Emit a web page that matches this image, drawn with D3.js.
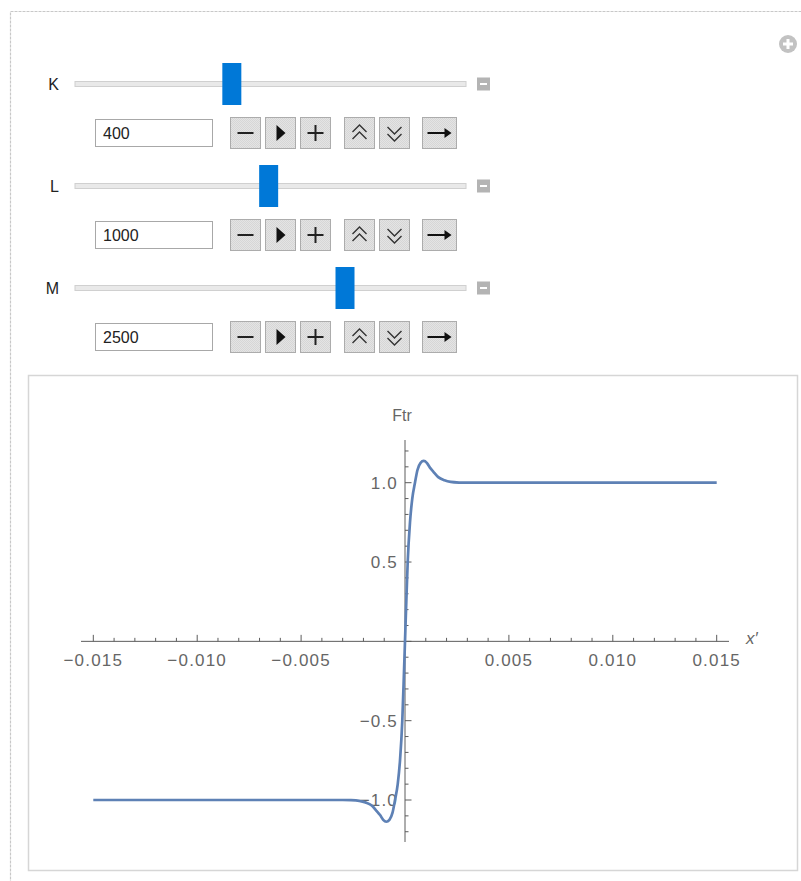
<!DOCTYPE html>
<html>
<head>
<meta charset="utf-8">
<script src="https://cdn.jsdelivr.net/npm/d3@7/dist/d3.min.js"></script>
<style>
  html, body { margin: 0; padding: 0; background: #fff; }
  svg { display: block; }
  text { font-family: "Liberation Sans", Arial, sans-serif; }
</style>
</head>
<body>
<svg id="chart" width="801" height="881"></svg>
<script>
// Manipulator parameters
const sliderNames = ["K", "L", "M"];
const sliderValues = [400, 1000, 2500];
const sliderMin = [0, 0, 0];
const sliderMax = [1010, 2020, 3570];

// Ftr(x') response curve
const xPoints = [-0.015, -0.004, -0.003, -0.0026, -0.0022, -0.0019, -0.0016, -0.00136, -0.0012,
  -0.00105, -0.0009, -0.00075, -0.0006, -0.00048, -0.00035, -0.00024, -0.00013, -0.00005, 0,
  0.00005, 0.00013, 0.00024, 0.00035, 0.00048, 0.0006, 0.00075, 0.0009, 0.00105, 0.0012,
  0.00136, 0.0016, 0.0019, 0.0022, 0.0026, 0.003, 0.004, 0.015];
const yPoints = [-1, -1, -1, -1.001, -1.005, -1.015, -1.035, -1.07, -1.095,
  -1.125, -1.137, -1.125, -1.08, -1.0, -0.9, -0.75, -0.5, -0.2, 0,
  0.2, 0.5, 0.75, 0.9, 1.0, 1.08, 1.125, 1.137, 1.125, 1.095,
  1.07, 1.035, 1.015, 1.005, 1.001, 1, 1, 1];

// Axis ticks
const xMajorTicks = [-0.015, -0.01, -0.005, 0.005, 0.01, 0.015];
const xTickLabels = ["\u22120.015", "\u22120.010", "\u22120.005", "0.005", "0.010", "0.015"];
const yMajorTicks = [-1, -0.5, 0.5, 1];
const yTickLabels = ["\u22121.0", "\u22120.5", "0.5", "1.0"];
const xLabel = "x\u2032";
const yLabel = "Ftr";

const svg = d3.select("#chart");

// Button texture
const defs = svg.append("defs");
const pat = defs.append("pattern").attr("id", "btnTex")
  .attr("width", 2).attr("height", 2).attr("patternUnits", "userSpaceOnUse");
pat.append("rect").attr("width", 2).attr("height", 2).attr("fill", "#e4e4e4");
pat.append("rect").attr("width", 1).attr("height", 1).attr("fill", "#d6d6d6");
pat.append("rect").attr("x", 1).attr("y", 1).attr("width", 1).attr("height", 1).attr("fill", "#d6d6d6");

// Outer manipulate frame
svg.append("rect")
  .attr("x", 10.5).attr("y", 11.5).attr("width", 820).attr("height", 900)
  .attr("fill", "none").attr("stroke", "#c8c8c8").attr("stroke-width", 1.2)
  .attr("stroke-dasharray", "3,1");

// Top-right add icon
const addIcon = svg.append("g").attr("transform", "translate(788,44)");
addIcon.append("circle").attr("r", 9).attr("fill", "#c2c2c2");
addIcon.append("path").attr("d", "M-5,0H5M0,-5V5").attr("stroke", "#fff").attr("stroke-width", 3);

// Sliders and control rows
const trackX0 = 75, trackX1 = 466, thumbW = 19, thumbH = 42;
const rowTrackY = [84, 186, 288];

sliderNames.forEach((name, i) => {
  const ty = rowTrackY[i];
  const g = svg.append("g");
  const thumbScale = d3.scaleLinear()
    .domain([sliderMin[i], sliderMax[i]])
    .range([trackX0 + thumbW / 2, trackX1 - thumbW / 2]);

  g.append("text").attr("x", 59).attr("y", ty).attr("dy", "0.35em")
    .attr("text-anchor", "end").attr("font-size", 16).attr("fill", "#222").text(name);

  // track
  g.append("rect").attr("x", trackX0).attr("y", ty - 2.5).attr("width", trackX1 - trackX0).attr("height", 5)
    .attr("fill", "#e9e9e9").attr("stroke", "#d0d0d0").attr("stroke-width", 1);
  // thumb
  g.append("rect").attr("x", thumbScale(sliderValues[i]) - thumbW / 2).attr("y", ty - thumbH / 2)
    .attr("width", thumbW).attr("height", thumbH).attr("fill", "#0078d7");
  // small collapse box
  g.append("rect").attr("x", 477).attr("y", ty - 6.5).attr("width", 13).attr("height", 13).attr("fill", "#b4b4b4");
  g.append("path").attr("d", `M480,${ty}H487`).attr("stroke", "#fff").attr("stroke-width", 2);

  // input field + buttons row
  const by = ty + 33;
  g.append("rect").attr("x", 95.5).attr("y", by + 2.5).attr("width", 117).attr("height", 27)
    .attr("fill", "#fff").attr("stroke", "#a8a8a8").attr("stroke-width", 1);
  g.append("text").attr("x", 103).attr("y", by + 16).attr("dy", "0.36em")
    .attr("font-size", 16).attr("fill", "#222").text(sliderValues[i]);

  const buttons = [
    { x: 230, w: 31, kind: "minus" },
    { x: 265, w: 31, kind: "play" },
    { x: 300, w: 31, kind: "plus" },
    { x: 344, w: 31, kind: "faster" },
    { x: 379, w: 31, kind: "slower" },
    { x: 422, w: 35, kind: "dir" }
  ];
  buttons.forEach(b => {
    g.append("rect").attr("x", b.x + 0.5).attr("y", by + 0.5).attr("width", b.w - 1).attr("height", 31)
      .attr("fill", "url(#btnTex)").attr("stroke", "#acacac").attr("stroke-width", 1);
    const cx = b.x + b.w / 2, cy = by + 16;
    if (b.kind === "minus") {
      g.append("path").attr("d", `M${cx - 8},${cy}H${cx + 8}`).attr("stroke", "#222").attr("stroke-width", 2);
    } else if (b.kind === "play") {
      g.append("path").attr("d", `M${cx - 4},${cy - 8}L${cx + 5},${cy}L${cx - 4},${cy + 8}Z`).attr("fill", "#111");
    } else if (b.kind === "plus") {
      g.append("path").attr("d", `M${cx - 8},${cy}H${cx + 8}M${cx},${cy - 8}V${cy + 8}`)
        .attr("stroke", "#222").attr("stroke-width", 2);
    } else if (b.kind === "faster") {
      g.append("path").attr("d",
        `M${cx - 7},${cy - 1}L${cx},${cy - 8}L${cx + 7},${cy - 1}M${cx - 7},${cy + 6}L${cx},${cy - 1}L${cx + 7},${cy + 6}`)
        .attr("fill", "none").attr("stroke", "#333").attr("stroke-width", 1.4);
    } else if (b.kind === "slower") {
      g.append("path").attr("d",
        `M${cx - 7},${cy - 6}L${cx},${cy + 1}L${cx + 7},${cy - 6}M${cx - 7},${cy + 1}L${cx},${cy + 8}L${cx + 7},${cy + 1}`)
        .attr("fill", "none").attr("stroke", "#333").attr("stroke-width", 1.4);
    } else {
      g.append("path").attr("d", `M${cx - 12},${cy}H${cx + 6}`).attr("stroke", "#111").attr("stroke-width", 2);
      g.append("path").attr("d", `M${cx + 5},${cy - 5}L${cx + 12},${cy}L${cx + 5},${cy + 5}Z`).attr("fill", "#111");
    }
  });
});

// Plot panel
svg.append("rect").attr("x", 28.5).attr("y", 375.5).attr("width", 769).attr("height", 495)
  .attr("fill", "#fff").attr("stroke", "#d6d6d6").attr("stroke-width", 1.5);

const x = d3.scaleLinear().domain([-0.015, 0.015]).range([93.3, 716.7]);
const y = d3.scaleLinear().domain([-1, 1]).range([800, 482.7]);

const axisColor = "#5c5c5c";
const labelColor = "#666";
const plot = svg.append("g");

// x axis
plot.append("line").attr("x1", 81).attr("x2", 729).attr("y1", y(0)).attr("y2", y(0))
  .attr("stroke", axisColor).attr("stroke-width", 1);
const xMinor = d3.range(-15, 16).map(d => d / 1000);
plot.selectAll(".xt").data(xMinor).join("line")
  .attr("x1", d => x(d)).attr("x2", d => x(d))
  .attr("y1", y(0)).attr("y2", d => y(0) - (Math.abs(Math.round(d * 1000)) % 5 === 0 ? 6.5 : 3.5))
  .attr("stroke", axisColor).attr("stroke-width", 1);
plot.selectAll(".xl").data(xMajorTicks).join("text")
  .attr("x", d => x(d)).attr("y", y(0) + 25)
  .attr("text-anchor", "middle").attr("font-size", 17).attr("letter-spacing", "1.2px")
  .attr("fill", labelColor).text((d, i) => xTickLabels[i]);
plot.append("text").attr("x", 746).attr("y", y(0) + 3).attr("font-size", 17)
  .attr("font-style", "italic").attr("fill", labelColor).text(xLabel);

// y axis
plot.append("line").attr("x1", x(0)).attr("x2", x(0)).attr("y1", 440).attr("y2", 842)
  .attr("stroke", axisColor).attr("stroke-width", 1);
const yMinor = d3.range(-12, 13).map(d => d / 10);
plot.selectAll(".yt").data(yMinor).join("line")
  .attr("x1", x(0)).attr("x2", d => x(0) + (Math.abs(Math.round(d * 10)) % 5 === 0 ? 6.5 : 3.5))
  .attr("y1", d => y(d)).attr("y2", d => y(d))
  .attr("stroke", axisColor).attr("stroke-width", 1);
plot.selectAll(".yl").data(yMajorTicks).join("text")
  .attr("x", 398).attr("y", d => y(d)).attr("dy", "0.36em")
  .attr("text-anchor", "end").attr("font-size", 17).attr("letter-spacing", "1.2px")
  .attr("fill", labelColor).text((d, i) => yTickLabels[i]);
plot.append("text").attr("x", 402).attr("y", 421).attr("text-anchor", "middle")
  .attr("font-size", 16).attr("fill", labelColor).text(yLabel);

// curve
const line = d3.line().x(d => x(d[0])).y(d => y(d[1])).curve(d3.curveMonotoneX);
plot.append("path").datum(xPoints.map((v, i) => [v, yPoints[i]]))
  .attr("d", line).attr("fill", "none").attr("stroke", "#5e81b5").attr("stroke-width", 2.7)
  .attr("stroke-linejoin", "round");
</script>
</body>
</html>
